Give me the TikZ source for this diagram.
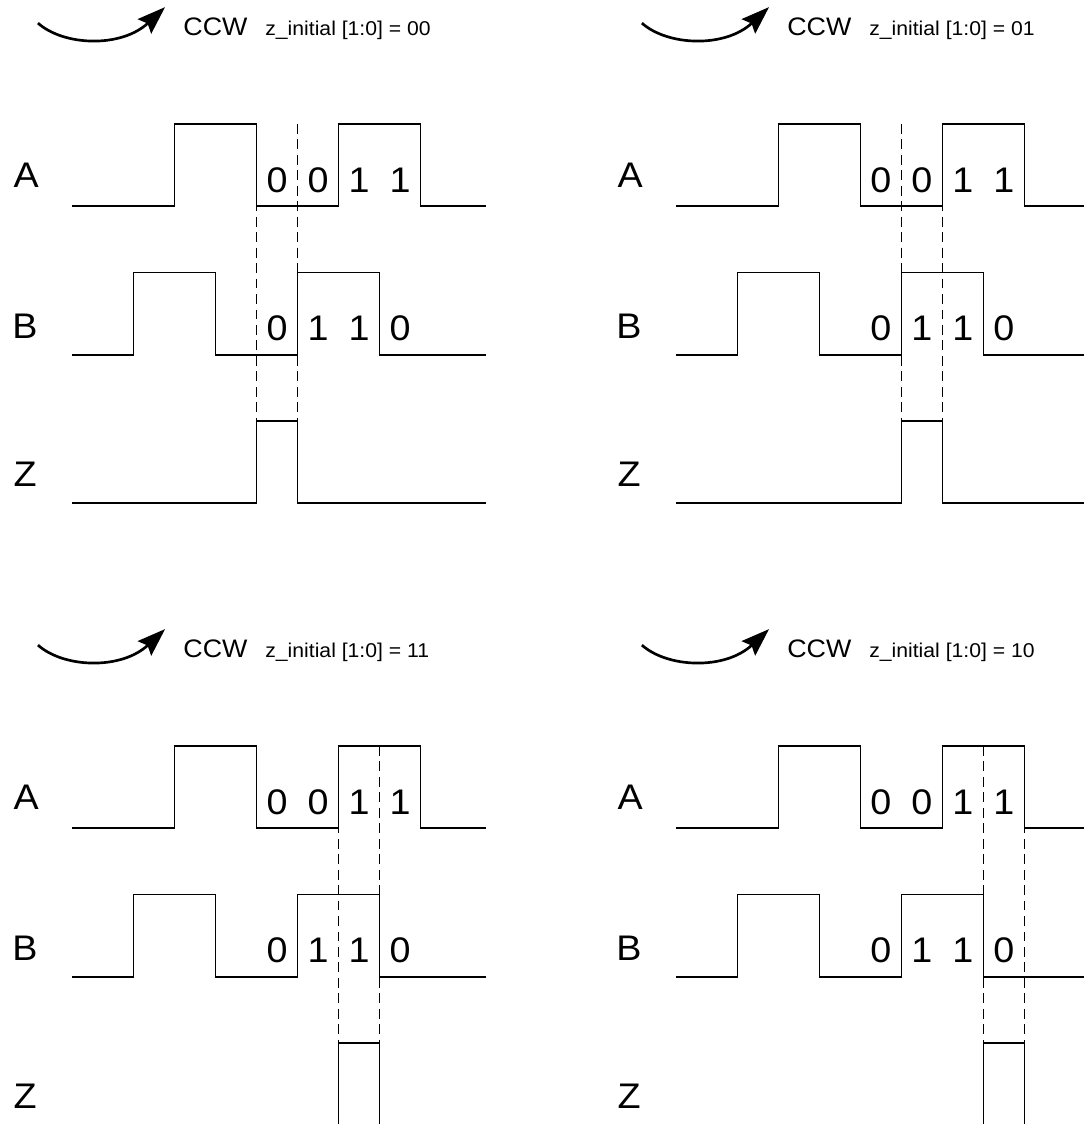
\documentclass[tikz,border=0pt]{standalone}
\usepackage{fontspec}
\setmainfont{Liberation Sans}[FakeStretch=1.06]
\usetikzlibrary{arrows.meta}
\begin{document}
\begin{tikzpicture}[>={Stealth[length=20pt,width=14pt,inset=3pt]},line join=miter,x=1.025cm,y=1.025cm,
	wave/.style={line width=1.1pt},
	guide/.style={line width=0.9pt,dash pattern=on 7pt off 4pt},
	sig/.style={font=\fontsize{25.3}{25.3}\selectfont,inner sep=0pt,anchor=base west},
	bit/.style={font=\fontsize{25.3}{25.3}\selectfont,inner sep=0pt,anchor=base},
	dirlabel/.style={font=\fontsize{18}{18}\selectfont,inner sep=0pt,anchor=base west},
	initlabel/.style={font=\fontsize{14.2}{14.2}\selectfont,inner sep=0pt,anchor=base west}]
	\useasboundingbox (-1.756,5.024) rectangle (24.659,-22.39);
	\foreach \dx/\dy/\code/\p in {0/0/00/4.5,14.73/0/01/5.5,0/-15.17/11/6.5,14.73/-15.17/10/7.5}{
		\begin{scope}[shift={(\dx,\dy)}]
			\draw[->,line width=1.9pt] (-0.83,4.46) .. controls (-0.2,3.9) and (1.2,3.85) .. (2.27,4.85);
			\node[dirlabel] (ccw\code) at (2.71,4.17) {CCW};
			\node[initlabel] (init\code) at (4.71,4.17) {z\_initial [1:0] = \code};
			\node[sig] (A\code) at (-1.43,0.45) {A};
			\node[sig] (B\code) at (-1.46,-3.22) {B};
			\node[sig] (Z\code) at (-1.43,-6.83) {Z};
			\draw[wave] (0,0)--(2.5,0)--(2.5,2)--(4.5,2)--(4.5,0)--(6.5,0)--(6.5,2)--(8.5,2)--(8.5,0)--(10.1,0);
			\draw[wave] (0,-3.63)--(1.5,-3.63)--(1.5,-1.62)--(3.5,-1.62)--(3.5,-3.63)--(5.5,-3.63)--(5.5,-1.62)--(7.5,-1.62)--(7.5,-3.63)--(10.1,-3.63);
			\draw[wave] (0,-7.24)--(\p,-7.24)--(\p,-5.24)--({\p+1},-5.24)--({\p+1},-7.24)--(10.1,-7.24);
			\draw[guide] (\p,2)--(\p,-5.24) ({\p+1},2)--({\p+1},-5.24);
			\foreach \x/\a/\b in {5/0/0,6/0/1,7/1/1,8/1/0}{
				\node[bit] (a\code\x) at (\x,0.32) {\a};
				\node[bit] (b\code\x) at (\x,-3.29) {\b};
			}
		\end{scope}
	}
\end{tikzpicture}
\end{document}
